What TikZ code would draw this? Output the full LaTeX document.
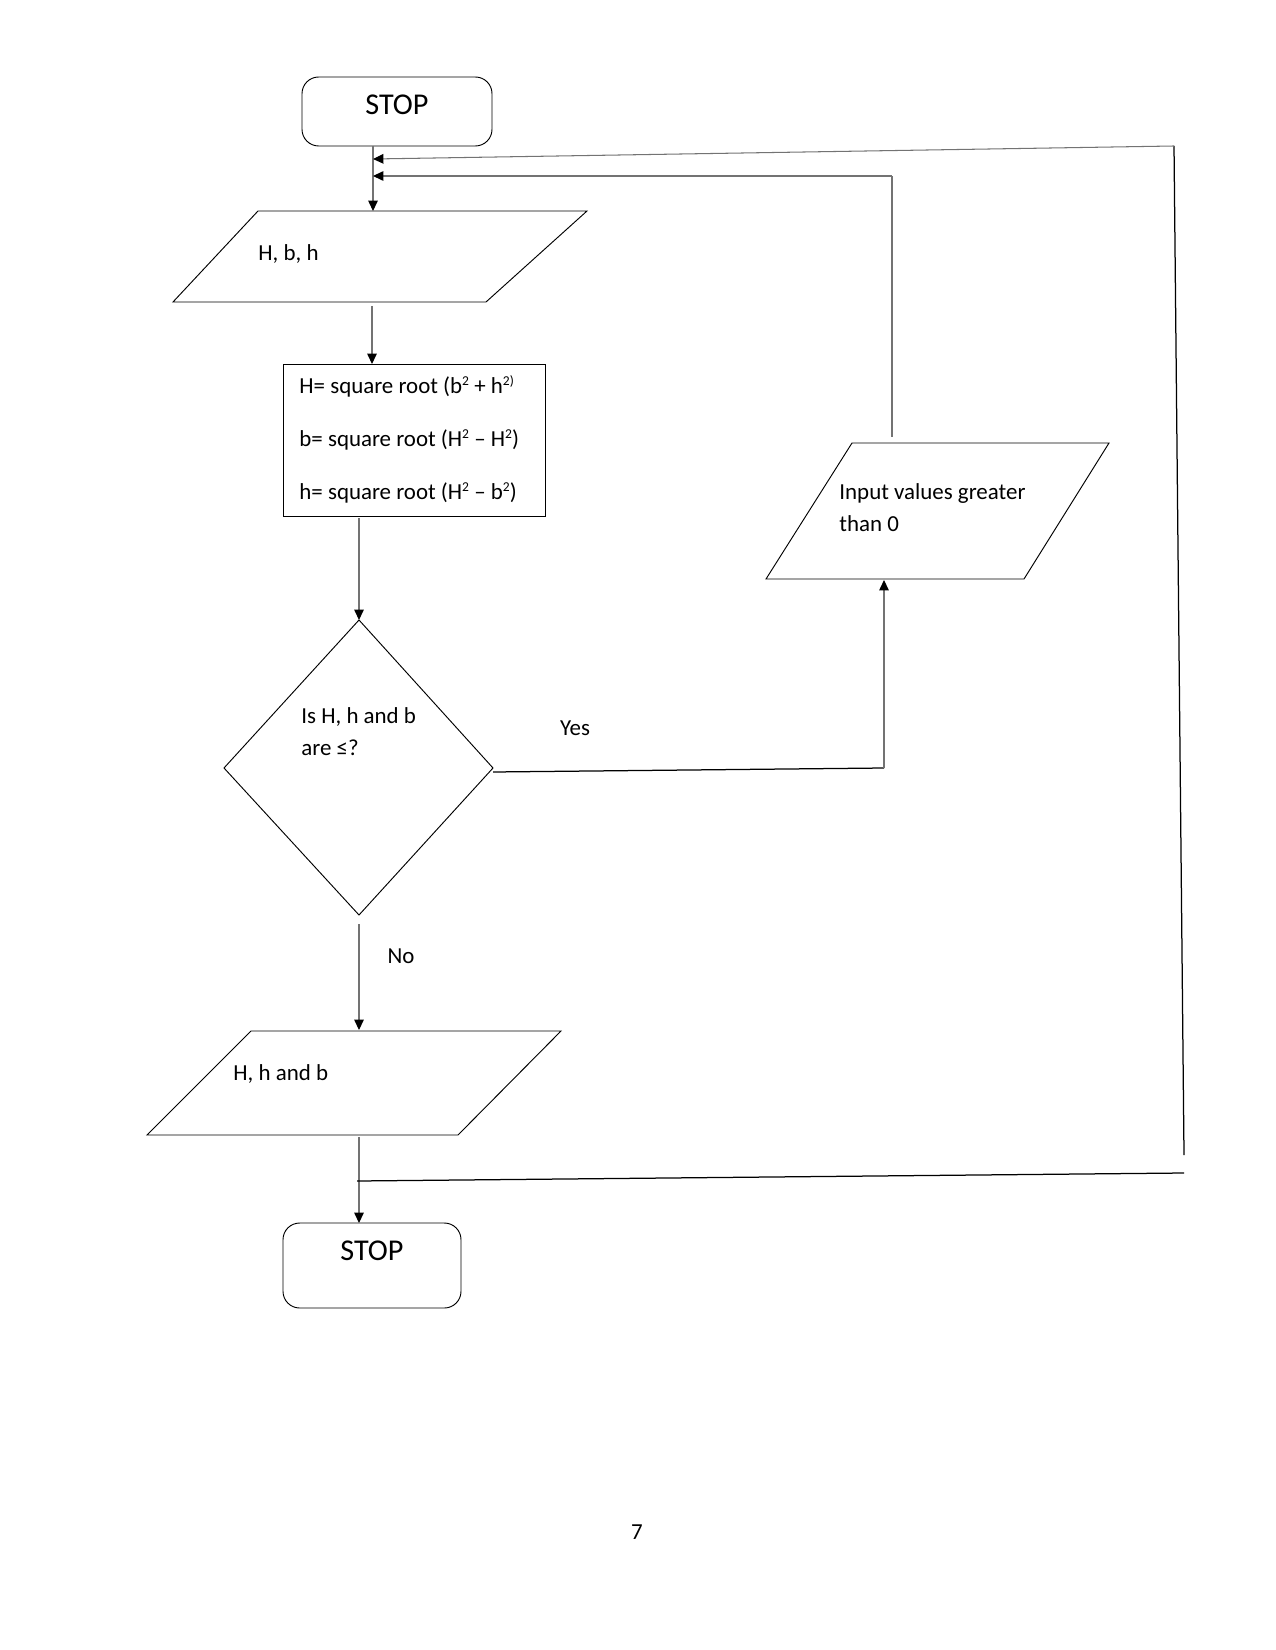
\documentclass[tikz,border=0pt]{standalone}
\usepackage{fontspec}
\setmainfont{Carlito}
\usetikzlibrary{arrows.meta}
\newcommand\mysup[1]{\raisebox{0.75ex}{\fontsize{6.5pt}{7pt}\selectfont #1}}
\begin{document}
\begin{tikzpicture}[x=0.48pt,y=-0.48pt,
  shapeline/.style={draw=black,line width=0.45pt},
  conn/.style={draw=black!55,line width=0.5pt},
  connb/.style={draw=black,line width=0.6pt},
  arr/.style={-{Triangle[length=5pt,width=4.6pt,color=black]}},
  txt/.style={inner sep=0pt,anchor=west,text height=1.6ex,text depth=.3ex,font=\fontsize{11pt}{13pt}\selectfont},
  big/.style={inner sep=0pt,text height=1.6ex,text depth=.3ex,font=\fontsize{14.5pt}{17pt}\selectfont}]
\useasboundingbox (0,0) rectangle (1275,1650);
% shapes
\draw[shapeline,rounded corners=8] (302,77) rectangle (492,146);
\draw[shapeline] (258,211) -- (587,211) -- (486,302) -- (173,302) -- cycle;
\draw[shapeline] (283,364) rectangle (545,516);
\draw[shapeline] (359,620) -- (493,768) -- (359,915) -- (224,768) -- cycle;
\draw[shapeline] (852,443) -- (1109,443) -- (1024,579) -- (766,579) -- cycle;
\draw[shapeline] (251,1031) -- (561,1031) -- (458,1135) -- (147,1135) -- cycle;
\draw[shapeline,rounded corners=8] (283,1223) rectangle (461,1308);
% named coordinates
\coordinate (stop1b) at (373,146);
\coordinate (in1t) at (373,211);
\coordinate (in1b) at (372,306);
\coordinate (calct) at (372,364);
\coordinate (calcb) at (359,518);
\coordinate (dect) at (359,620);
\coordinate (decr) at (493,772);
\coordinate (decb) at (359,924);
\coordinate (yesc) at (884,768);
\coordinate (in2b) at (884,580);
\coordinate (in2t) at (892,437);
\coordinate (in2c) at (892,176);
\coordinate (j1) at (373,176);
\coordinate (j2) at (373,159);
\coordinate (outt) at (359,1030);
\coordinate (outb) at (359,1137);
\coordinate (stop2t) at (359,1223);
\coordinate (lp0) at (357,1181);
\coordinate (lp1) at (1184,1173);
\coordinate (lp2) at (1184,1155);
\coordinate (lp3) at (1174,146);
% texts
\node[big] (stoptxt1) at (397,108) {STOP};
\node[txt] (hbh) at (258,254) {H, b, h};
\node[txt] (c1) at (299,387) {H= square root (b\mysup{2} + h\mysup{2)}};
\node[txt] (c2) at (299,440) {b= square root (H\mysup{2} – H\mysup{2})};
\node[txt] (c3) at (299,493) {h= square root (H\mysup{2} – b\mysup{2})};
\node[txt] (d1) at (301,717) {Is H, h and b};
\node[txt] (d2) at (301,749) {are ≤?};
\node[txt,anchor=center] (yes) at (575,729) {Yes};
\node[txt] (i1) at (839,493) {Input values greater};
\node[txt] (i2) at (839,525) {than 0};
\node[txt,anchor=center] (no) at (401,957) {No};
\node[txt] (hhb) at (233,1074) {H, h and b};
\node[big] (stoptxt2) at (372,1254) {STOP};
\node[txt,anchor=center] (pg) at (637,1533) {7};
% connectors
\draw[conn,arr] (stop1b) -- (in1t);
\draw[conn,arr] (in1b) -- (calct);
\draw[conn,arr] (calcb) -- (dect);
\draw[connb] (decr) -- (yesc);
\draw[conn,arr] (yesc) -- (in2b);
\draw[conn] (in2t) -- (in2c);
\draw[conn,arr] (in2c) -- (j1);
\draw[conn,arr] (decb) -- (outt);
\draw[conn,arr] (outb) -- (stop2t);
\draw[connb] (lp0) -- (lp1);
\draw[connb] (lp2) -- (lp3);
\draw[conn,arr] (lp3) -- (j2);
\end{tikzpicture}
\end{document}
